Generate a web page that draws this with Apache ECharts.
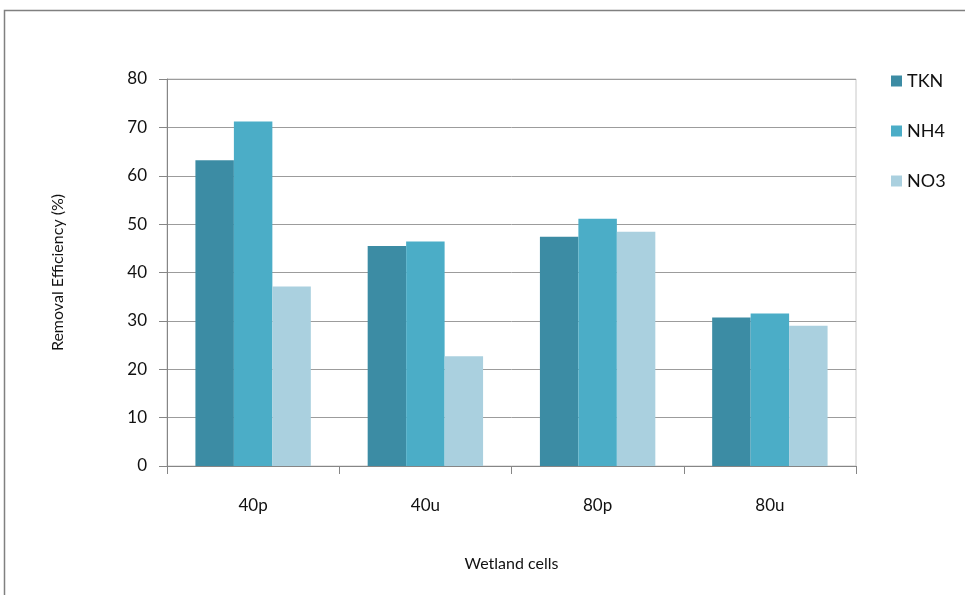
<!DOCTYPE html>
<html>
<head>
<meta charset="utf-8">
<script src="https://cdn.jsdelivr.net/npm/echarts@6/dist/echarts.min.js"></script>
<style>
  html, body { margin: 0; padding: 0; background: #fff; }
  #chart { width: 965px; height: 595px; }
</style>
</head>
<body>
<div id="chart"></div>
<script>
// Removal efficiency per wetland cell
const categories = ['40p', '40u', '80p', '80u'];
const tkn = [63.2, 45.5, 47.4, 30.7];
const nh4 = [71.2, 46.4, 51.1, 31.5];
const no3 = [37.1, 22.7, 48.4, 29.0];
const yTicks = { min: 0, max: 80, interval: 10 };

const font = 'Lato, "Open Sans", sans-serif';
const colors = ['#3c8ca4', '#4badc7', '#aad0df'];

const chart = echarts.init(document.getElementById('chart'));

function barSeries(name, data, color) {
  return {
    name: name,
    type: 'bar',
    data: data,
    barGap: '0%',
    barCategoryGap: '33%',
    itemStyle: { color: color },
    emphasis: { disabled: true }
  };
}

chart.setOption({
  animation: false,
  backgroundColor: '#fff',
  graphic: [{
    type: 'polyline',
    shape: { points: [[4.5, 600], [4.5, 10.5], [970, 10.5]] },
    style: { stroke: '#808080', lineWidth: 1.5, fill: null },
    silent: true
  }],
  grid: { left: 167, right: 109, top: 79, bottom: 129, show: true, borderColor: '#c8c8c8', borderWidth: 1 },
  legend: {
    orient: 'vertical',
    left: 886,
    top: 67,
    itemWidth: 11,
    itemHeight: 11,
    itemGap: 32,
    icon: 'rect',
    textStyle: { fontFamily: font, fontSize: 18, color: '#111', padding: [0, 0, 0, 0] },
    data: ['TKN', 'NH4', 'NO3']
  },
  xAxis: {
    type: 'category',
    data: categories,
    name: 'Wetland cells',
    nameLocation: 'middle',
    nameGap: 90,
    nameTextStyle: { fontFamily: font, fontSize: 16, color: '#111' },
    axisLine: { lineStyle: { color: '#868686', width: 1 } },
    axisTick: { show: true, length: 8, lineStyle: { color: '#868686' } },
    axisLabel: { fontFamily: font, fontSize: 17, color: '#111', margin: 31 }
  },
  yAxis: {
    type: 'value',
    min: yTicks.min,
    max: yTicks.max,
    interval: yTicks.interval,
    name: 'Removal Efficiency (%)',
    nameLocation: 'middle',
    nameGap: 101,
    nameRotate: 90,
    nameTextStyle: { fontFamily: font, fontSize: 16, color: '#111' },
    axisLine: { show: true, lineStyle: { color: '#868686', width: 1 } },
    axisTick: { show: true, length: 8, lineStyle: { color: '#868686' } },
    axisLabel: { fontFamily: font, fontSize: 17, color: '#111', margin: 20 },
    splitLine: { lineStyle: { color: '#9c9c9c', width: 1 } }
  },
  series: [
    barSeries('TKN', tkn, colors[0]),
    barSeries('NH4', nh4, colors[1]),
    barSeries('NO3', no3, colors[2])
  ]
});
</script>
</body>
</html>
